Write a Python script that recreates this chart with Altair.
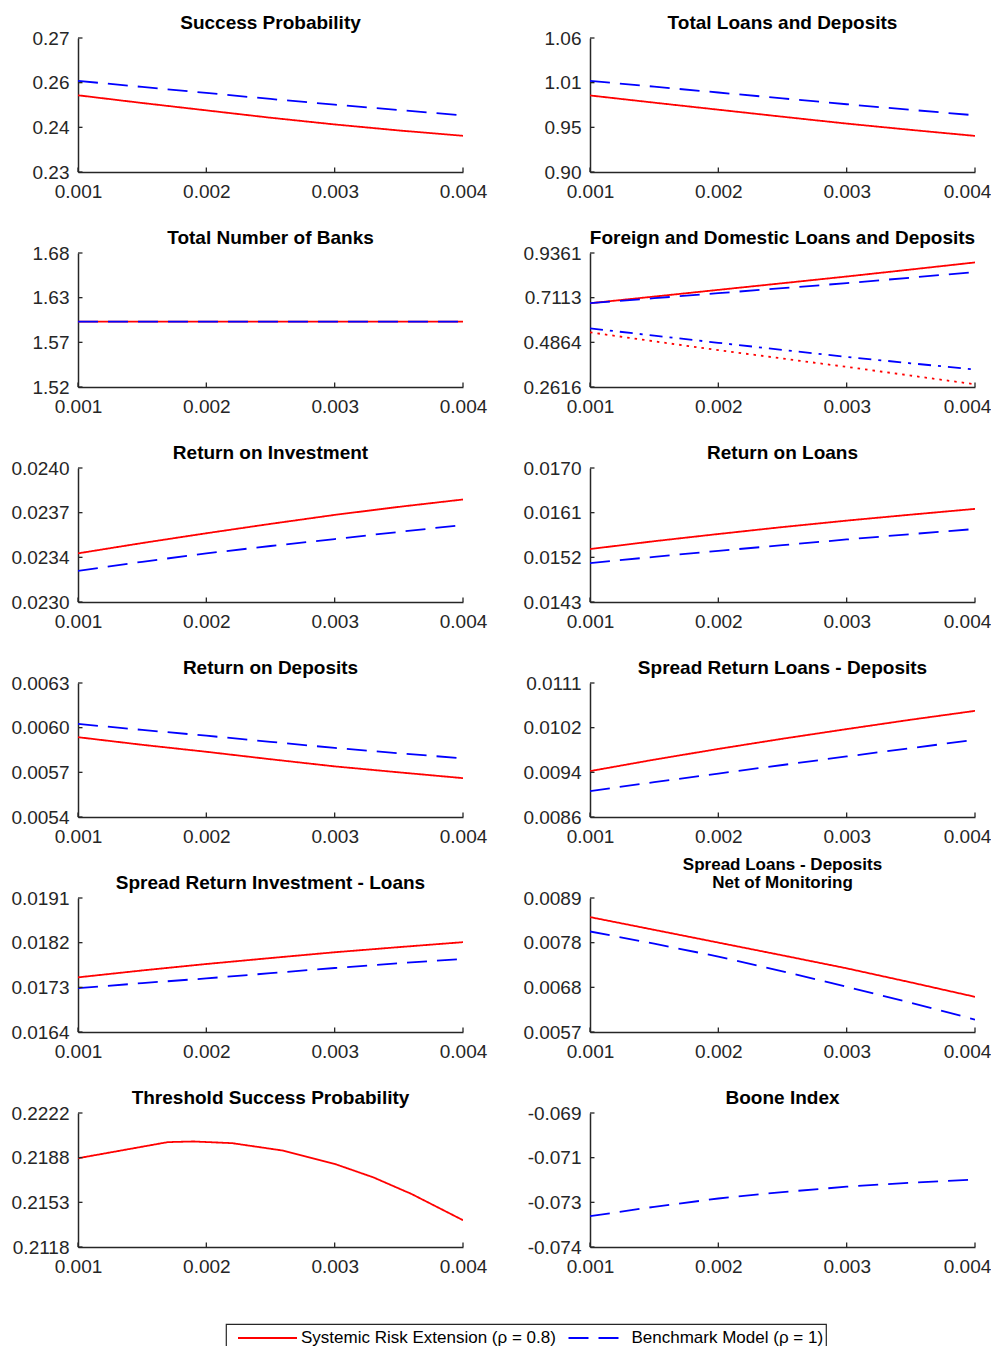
import altair as alt
import pandas as pd

FONT = "Liberation Sans"
AXIS_COLOR = "#262626"
RED = "#ff0000"
BLUE = "#0000ff"

X = [0.001, 0.0015, 0.002, 0.0025, 0.003, 0.0035, 0.004]
X_THR = [0.001, 0.0017, 0.0019, 0.0022, 0.0026, 0.003, 0.0033, 0.0036, 0.004]
X_TICKS = [0.001, 0.002, 0.003, 0.004]

MODELS = ["Systemic Risk Extension (ρ = 0.8)", "Benchmark Model (ρ = 1)"]

# ---- series values ----
sp_sys = [0.2529, 0.2506, 0.2484, 0.2462, 0.2442, 0.2424, 0.2408]
sp_bench = [0.2572, 0.2554, 0.2536, 0.2518, 0.2501, 0.2485, 0.2469]
tl_sys = [0.9914, 0.9828, 0.9744, 0.9660, 0.9578, 0.9503, 0.9431]
tl_bench = [1.0089, 1.0019, 0.9949, 0.9879, 0.9809, 0.9742, 0.9677]
nb_sys = [1.598, 1.598, 1.598, 1.598, 1.598, 1.598, 1.598]
nb_bench = [1.598, 1.598, 1.598, 1.598, 1.598, 1.598, 1.598]
fd_sys = [0.6833, 0.7168, 0.7505, 0.7840, 0.8178, 0.8530, 0.8886]
fd_bench = [0.6833, 0.7085, 0.7339, 0.7590, 0.7844, 0.8120, 0.8400]
fd_bench_2 = [0.5569, 0.5200, 0.4841, 0.4485, 0.4133, 0.3810, 0.3496]
fd_sys_2 = [0.5366, 0.4915, 0.4472, 0.4050, 0.3627, 0.3190, 0.2753]
ri_sys = [0.023363, 0.023440, 0.023513, 0.023583, 0.023650, 0.023710, 0.023765]
ri_bench = [0.023232, 0.023300, 0.023363, 0.023418, 0.023470, 0.023523, 0.023575]
rl_sys = [0.015367, 0.015525, 0.015670, 0.015810, 0.015940, 0.016060, 0.016176]
rl_bench = [0.015083, 0.015210, 0.015330, 0.015445, 0.015560, 0.015668, 0.015771]
rd_sys = [0.005936, 0.005885, 0.005838, 0.005788, 0.005740, 0.005700, 0.005661]
rd_bench = [0.006025, 0.005985, 0.005946, 0.005905, 0.005864, 0.005828, 0.005794]
sld_sys = [0.009456, 0.009670, 0.009870, 0.010060, 0.010240, 0.010415, 0.010580]
sld_bench = [0.009083, 0.009250, 0.009410, 0.009570, 0.009730, 0.009885, 0.010040]
sil_sys = [0.017501, 0.017640, 0.017770, 0.017890, 0.018007, 0.018110, 0.018210]
sil_bench = [0.017284, 0.017385, 0.017480, 0.017585, 0.017690, 0.017785, 0.017872]
snm_sys = [0.008444, 0.008140, 0.007835, 0.007530, 0.007221, 0.006885, 0.006540]
snm_bench = [0.008100, 0.007810, 0.007500, 0.007150, 0.006780, 0.006400, 0.005997]
thr_sys = [0.21869, 0.21994, 0.21999, 0.21986, 0.21928, 0.21825, 0.21721, 0.21591, 0.21388]
boone_bench = [-0.07285, -0.07250, -0.07219, -0.07195, -0.07175, -0.07160, -0.07148]

# ---- y axis ranges and tick labels ----
sp_range, sp_labels = [0.23, 0.27], ["0.23", "0.24", "0.26", "0.27"]
tl_range, tl_labels = [0.90, 1.06], ["0.90", "0.95", "1.01", "1.06"]
nb_range, nb_labels = [1.52, 1.68], ["1.52", "1.57", "1.63", "1.68"]
fd_range, fd_labels = [0.2616, 0.9361], ["0.2616", "0.4864", "0.7113", "0.9361"]
ri_range, ri_labels = [0.0230, 0.0240], ["0.0230", "0.0234", "0.0237", "0.0240"]
rl_range, rl_labels = [0.0143, 0.0170], ["0.0143", "0.0152", "0.0161", "0.0170"]
rd_range, rd_labels = [0.0054, 0.0063], ["0.0054", "0.0057", "0.0060", "0.0063"]
sld_range, sld_labels = [0.0086, 0.0111], ["0.0086", "0.0094", "0.0102", "0.0111"]
sil_range, sil_labels = [0.0164, 0.0191], ["0.0164", "0.0173", "0.0182", "0.0191"]
snm_range, snm_labels = [0.0057, 0.0089], ["0.0057", "0.0068", "0.0078", "0.0089"]
thr_range, thr_labels = [0.2118, 0.2222], ["0.2118", "0.2153", "0.2188", "0.2222"]
bo_range, bo_labels = [-0.074, -0.069], ["-0.074", "-0.073", "-0.071", "-0.069"]

W, H = 385, 134
TICK_LEN = 4.5


def panel(title, yr, labels, sys=None, bench=None, xs=X, extra=None, right=False):
    lo, hi = yr
    step = (hi - lo) / 3
    yticks = [lo + i * step for i in range(4)]
    label_expr = "[" + ",".join(f"'{l}'" for l in labels) + \
        f"][round((datum.value - ({lo})) / {step})]"
    xscale = alt.Scale(domain=[0.001, 0.004], nice=False, zero=False)
    yscale = alt.Scale(domain=[lo, hi], nice=False, zero=False)
    xaxis_kw = dict(values=X_TICKS, format=".3f", title=None, ticks=False,
                    tickSize=0, labelPadding=10, labelFlush=False)
    if right:
        xaxis_kw["labelOffset"] = {"condition": {"test": "datum.value > 0.0039", "value": -8},
                                   "value": 0}
    xaxis = alt.Axis(**xaxis_kw)
    yaxis = alt.Axis(values=yticks, labelExpr=label_expr, title=None,
                     ticks=False, tickSize=0, labelPadding=9)

    rows = []
    if sys is not None:
        rows += [{"x": a, "y": b, "model": MODELS[0]} for a, b in zip(xs, sys)]
    if bench is not None:
        rows += [{"x": a, "y": b, "model": MODELS[1]} for a, b in zip(xs, bench)]
    df = pd.DataFrame(rows)

    lines = alt.Chart(df).mark_line(strokeWidth=1.8, clip=True).encode(
        x=alt.X("x:Q", scale=xscale, axis=xaxis),
        y=alt.Y("y:Q", scale=yscale, axis=yaxis),
        color=alt.Color("model:N",
                        scale=alt.Scale(domain=MODELS, range=[RED, BLUE]),
                        legend=alt.Legend(title=None)),
        strokeDash=alt.StrokeDash("model:N",
                                  scale=alt.Scale(domain=MODELS, range=[[1, 0], [20, 10]]),
                                  legend=alt.Legend(title=None)),
        order=alt.Order("model:N", sort="descending"),
    )
    layers = [lines]
    if extra is not None:
        for vals, col, dash in extra:
            edf = pd.DataFrame({"x": xs, "y": vals})
            layers.append(
                alt.Chart(edf).mark_line(strokeWidth=1.8, color=col, strokeDash=dash, clip=True).encode(
                    x=alt.X("x:Q", scale=xscale, axis=xaxis),
                    y=alt.Y("y:Q", scale=yscale, axis=yaxis),
                )
            )
    # inward ticks (MATLAB style)
    xt = alt.Chart(pd.DataFrame({"x": X_TICKS})).mark_rule(
        color=AXIS_COLOR, strokeWidth=1.3).encode(
        x=alt.X("x:Q", scale=xscale, axis=xaxis),
        y=alt.value(H), y2=alt.value(H - TICK_LEN))
    yt = alt.Chart(pd.DataFrame({"y": yticks})).mark_rule(
        color=AXIS_COLOR, strokeWidth=1.3).encode(
        y=alt.Y("y:Q", scale=yscale, axis=yaxis),
        x=alt.value(0), x2=alt.value(TICK_LEN))
    layers += [xt, yt]

    if isinstance(title, list):
        t = alt.TitleParams(text=title, fontSize=17, lineHeight=18, baseline="bottom", offset=-20)
    else:
        t = alt.TitleParams(text=title)
    return alt.layer(*layers).properties(width=W, height=H, title=t)


panels = [
    panel("Success Probability", sp_range, sp_labels, sp_sys, sp_bench),
    panel("Total Loans and Deposits", tl_range, tl_labels, tl_sys, tl_bench, right=True),
    panel("Total Number of Banks", nb_range, nb_labels, nb_sys, nb_bench),
    panel("Foreign and Domestic Loans and Deposits", fd_range, fd_labels, fd_sys, fd_bench,
          extra=[(fd_bench_2, BLUE, [13, 7, 3, 7]), (fd_sys_2, RED, [2.5, 5])], right=True),
    panel("Return on Investment", ri_range, ri_labels, ri_sys, ri_bench),
    panel("Return on Loans", rl_range, rl_labels, rl_sys, rl_bench, right=True),
    panel("Return on Deposits", rd_range, rd_labels, rd_sys, rd_bench),
    panel("Spread Return Loans - Deposits", sld_range, sld_labels, sld_sys, sld_bench, right=True),
    panel("Spread Return Investment - Loans", sil_range, sil_labels, sil_sys, sil_bench),
    panel(["Spread Loans - Deposits", "Net of Monitoring"], snm_range, snm_labels,
          snm_sys, snm_bench, right=True),
    panel("Threshold Success Probability", thr_range, thr_labels, sys=thr_sys, xs=X_THR),
    panel("Boone Index", bo_range, bo_labels, bench=boone_bench, right=True),
]

chart = alt.concat(
    *panels, columns=2,
    spacing=alt.RowColnumber(row=81, column=127),
    bounds="flush",
).properties(
    padding={"left": 2, "top": 6, "right": 0, "bottom": 0}
).configure_view(
    stroke=None
).configure_axis(
    grid=False,
    domainColor=AXIS_COLOR,
    domainWidth=1.5,
    labelColor=AXIS_COLOR,
    labelFont=FONT,
    labelFontSize=19,
).configure_title(
    font=FONT,
    fontSize=19,
    fontWeight="bold",
    color="black",
    anchor="middle",
    baseline="bottom",
    offset=-4,
).configure_legend(
    orient="none",
    legendX=148,
    legendY=1286,
    direction="horizontal",
    strokeColor=AXIS_COLOR,
    strokeWidth=1.2,
    padding=2,
    cornerRadius=0,
    fillColor="white",
    labelFont=FONT,
    labelFontSize=17,
    labelColor="black",
    labelLimit=0,
    symbolType="stroke",
    symbolSize=3481,
    symbolStrokeWidth=1.8,
    symbolOffset=9,
    labelOffset=3,
    columnPadding=2.5,
    clipHeight=24,
)

chart.save("out.html", embed_options={"renderer": "svg", "actions": False})
